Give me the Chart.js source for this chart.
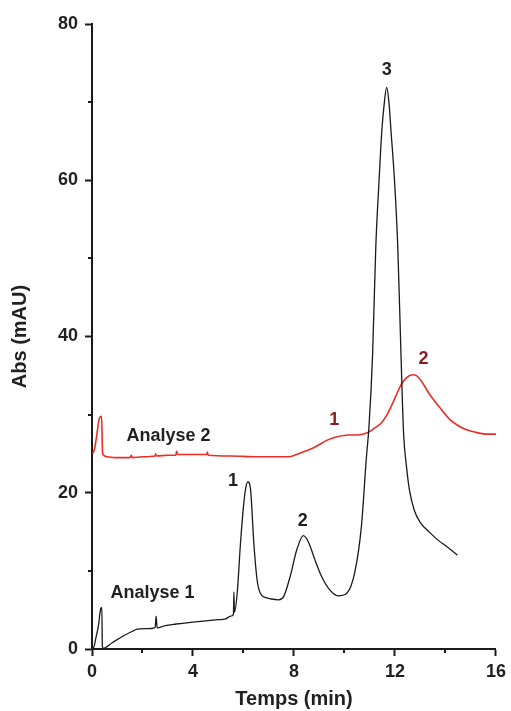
<!DOCTYPE html>
<html>
<head>
<meta charset="utf-8">
<title>Chromatogrammes</title>
<script src="https://cdn.jsdelivr.net/npm/chart.js@4.4.1/dist/chart.umd.min.js"></script>
<style>
  html, body { margin: 0; padding: 0; background: #fff; }
  #chart { display: block; }
</style>
</head>
<body>
<canvas id="chart" width="511" height="711"></canvas>
<script>
// Analyse 1 (black trace): time (min) / absorbance (mAU)
const time1 = [0.02, 0.08, 0.14, 0.25, 0.35, 0.39, 0.41, 0.45, 0.8, 1.2, 1.62, 1.76, 2.1, 2.5, 2.54, 2.58, 2.9,
  3.33, 3.9, 4.5, 5.0, 5.29, 5.49, 5.6, 5.62, 5.64, 5.75, 5.88, 6.01, 6.1, 6.17, 6.28, 6.41, 6.54, 6.67, 6.87, 7.1,
  7.39, 7.59, 7.85, 8.11, 8.37, 8.57, 8.83, 9.09, 9.36, 9.75, 10.08, 10.4, 10.67, 10.86, 10.97, 11.11, 11.24, 11.37,
  11.48, 11.58, 11.67, 11.76, 11.84, 11.98, 12.11, 12.24, 12.34, 12.45, 12.57, 12.76, 13.02, 13.35, 13.68, 14.1, 14.47];
const abs1 = [0.0, 0.3, 1.2, 2.9, 5.2, 5.3, 0.3, 0.1, 0.8, 1.6, 2.3, 2.5, 2.6, 2.75, 4.2, 2.7, 3.0,
  3.2, 3.4, 3.6, 3.75, 3.85, 4.2, 4.4, 7.3, 4.7, 7.1, 13.5, 18.6, 20.8, 21.4, 20.4, 13.5, 8.8, 7.1, 6.6, 6.4,
  6.3, 6.7, 9.3, 12.7, 14.5, 13.7, 11.4, 9.3, 7.8, 6.8, 7.1, 9.7, 15.7, 24.2, 28.5, 37.4, 51.5, 60.0,
  66.4, 70.0, 71.9, 70.0, 66.4, 60.0, 51.5, 37.4, 27.6, 23.5, 20.4, 17.8, 16.1, 15.0, 14.0, 13.0, 12.0];

// Analyse 2 (red trace)
const time2 = [0.02, 0.1, 0.18, 0.29, 0.38, 0.42, 0.6, 0.9, 1.5, 1.56, 1.6, 2.0, 2.5, 2.52, 2.56, 3.0, 3.32, 3.35, 3.4,
  4.0, 4.54, 4.57, 4.6, 5.5, 6.5, 7.3, 7.8, 8.18, 8.8, 9.36, 9.75, 10.14, 10.5, 10.93, 11.2, 11.45, 11.65, 11.84,
  12.05, 12.24, 12.45, 12.7, 12.85, 13.02, 13.18, 13.35, 13.55, 13.75, 14.0, 14.2, 14.45, 14.73, 15.0, 15.25, 15.6, 16.0];
const abs2 = [25.0, 25.6, 27.2, 29.5, 29.8, 25.0, 24.6, 24.5, 24.5, 24.8, 24.5, 24.6, 24.7, 25.0, 24.7, 24.8, 24.8, 25.3, 24.9,
  24.9, 24.9, 25.2, 24.8, 24.7, 24.6, 24.6, 24.6, 25.0, 25.8, 26.8, 27.2, 27.4, 27.4, 27.7, 28.3, 28.9, 29.8, 31.0,
  32.5, 33.8, 34.7, 35.1, 35.0, 34.4, 33.6, 32.7, 31.8, 31.0, 30.0, 29.3, 28.7, 28.2, 27.9, 27.7, 27.5, 27.5];

const seriesNames = ["Analyse 1", "Analyse 2"];
const seriesColors = ["#1a1a1a", "#ee2b25"];
const xLabels = [0, 4, 8, 12, 16];
const yLabels = [0, 20, 40, 60, 80];

// text placed on the plot, in data coordinates
const notes = [
  { text: seriesNames[0], t: 2.4, a: 7.2, color: "#231f20" },
  { text: seriesNames[1], t: 3.03, a: 27.3, color: "#231f20" },
  { text: "1", t: 5.58, a: 21.5, color: "#231f20" },
  { text: "2", t: 8.35, a: 16.4, color: "#231f20" },
  { text: "3", t: 11.67, a: 74.1, color: "#231f20" },
  { text: "1", t: 9.59, a: 29.3, color: "#8b1c1f" },
  { text: "2", t: 13.13, a: 37.1, color: "#8b1c1f" }
];

const FONT = "'Liberation Sans', Arial, sans-serif";

function toPoints(xs, ys) {
  return xs.map((x, i) => ({ x: x, y: ys[i] }));
}

// short ticks between the labelled ones
const minorTicks = {
  id: "minorTicks",
  afterDraw(chart) {
    const ctx = chart.ctx;
    const { x, y } = chart.scales;
    ctx.save();
    ctx.strokeStyle = "#1a1a1a";
    ctx.lineWidth = 2;
    x.ticks.forEach(tk => {
      if (xLabels.includes(tk.value)) return;
      const px = Math.round(x.getPixelForValue(tk.value));
      ctx.beginPath();
      ctx.moveTo(px, x.top);
      ctx.lineTo(px, x.top + 4);
      ctx.stroke();
    });
    y.ticks.forEach(tk => {
      if (yLabels.includes(tk.value)) return;
      const py = Math.round(y.getPixelForValue(tk.value));
      ctx.beginPath();
      ctx.moveTo(y.right, py);
      ctx.lineTo(y.right - 4, py);
      ctx.stroke();
    });
    ctx.restore();
  }
};

const peakLabels = {
  id: "peakLabels",
  afterDatasetsDraw(chart) {
    const ctx = chart.ctx;
    const { x, y } = chart.scales;
    ctx.save();
    ctx.font = "bold 18px " + FONT;
    ctx.textAlign = "center";
    ctx.textBaseline = "middle";
    notes.forEach(n => {
      ctx.fillStyle = n.color;
      ctx.fillText(n.text, x.getPixelForValue(n.t), y.getPixelForValue(n.a));
    });
    ctx.restore();
  }
};

const majorColor = (list) => (c) => (c.tick && list.includes(c.tick.value)) ? "#1a1a1a" : "rgba(0,0,0,0)";

new Chart(document.getElementById("chart"), {
  type: "line",
  data: {
    datasets: [
      {
        label: seriesNames[0],
        data: toPoints(time1, abs1),
        borderColor: seriesColors[0],
        borderWidth: 1.3,
        pointRadius: 0,
        fill: false,
        cubicInterpolationMode: "monotone"
      },
      {
        label: seriesNames[1],
        data: toPoints(time2, abs2),
        borderColor: seriesColors[1],
        borderWidth: 1.6,
        pointRadius: 0,
        fill: false,
        cubicInterpolationMode: "monotone"
      }
    ]
  },
  options: {
    responsive: false,
    animation: false,
    layout: { padding: { top: 24, right: 12, left: 0, bottom: 0 } },
    plugins: {
      legend: { display: false },
      tooltip: { enabled: false }
    },
    scales: {
      x: {
        type: "linear",
        min: 0,
        max: 16,
        afterFit(scale) { scale.height = 62; },
        border: { display: true, color: "#1a1a1a", width: 2 },
        grid: { drawOnChartArea: false, drawTicks: true, tickLength: 7, tickWidth: 2, tickColor: majorColor(xLabels) },
        ticks: {
          stepSize: 2,
          autoSkip: false,
          maxRotation: 0,
          padding: 5,
          color: "#231f20",
          font: { family: FONT, size: 18, weight: "bold" },
          callback: (v) => xLabels.includes(v) ? String(v) : ""
        },
        title: {
          display: true,
          text: "Temps (min)",
          color: "#231f20",
          font: { family: FONT, size: 20, weight: "bold" },
          padding: { top: 0, bottom: 0 }
        }
      },
      y: {
        type: "linear",
        min: 0,
        max: 80,
        afterFit(scale) { scale.width = 92; },
        border: { display: true, color: "#1a1a1a", width: 2 },
        grid: { drawOnChartArea: false, drawTicks: true, tickLength: 7, tickWidth: 2, tickColor: majorColor(yLabels) },
        ticks: {
          stepSize: 10,
          autoSkip: false,
          padding: 7,
          color: "#231f20",
          font: { family: FONT, size: 18, weight: "bold" },
          callback: (v) => yLabels.includes(v) ? String(v) : ""
        },
        title: {
          display: true,
          text: "Abs (mAU)",
          color: "#231f20",
          font: { family: FONT, size: 20, weight: "bold" },
          padding: { top: 8, bottom: 0 }
        }
      }
    }
  },
  plugins: [minorTicks, peakLabels]
});
</script>
</body>
</html>
